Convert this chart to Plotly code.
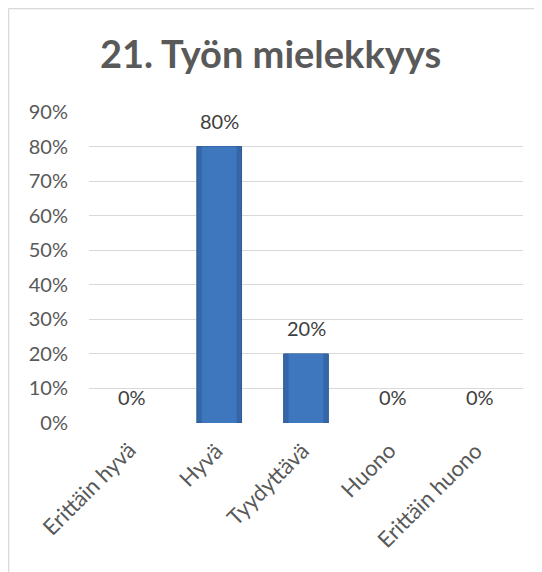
import plotly.graph_objects as go

categories = ["Erittäin hyvä", "Hyvä", "Tyydyttävä", "Huono", "Erittäin huono"]
values = [0.0, 0.80, 0.20, 0.0, 0.0]
value_labels = ["0%", "80%", "20%", "0%", "0%"]
y_ticks = [0, 0.1, 0.2, 0.3, 0.4, 0.5, 0.6, 0.7, 0.8, 0.9]
y_tick_labels = ["0%", "10%", "20%", "30%", "40%", "50%", "60%", "70%", "80%", "90%"]

FONT = "Lato, Carlito, Calibri, sans-serif"
GRAY = "#595959"

W, H = 534, 564
L, R, T, B = 81, 19, 104, 149
PW, PH = W - L - R, H - T - B

fig = go.Figure()
edge_colors = ["#2C5A94" if v > 0 else "rgba(0,0,0,0)" for v in values]
fig.add_trace(go.Bar(
    x=categories, y=values, width=0.515,
    marker=dict(color="#3566A8", line=dict(color=edge_colors, width=1)),
    hoverinfo="skip",
))
fig.add_trace(go.Bar(
    x=categories, y=values, width=0.40,
    marker=dict(color="#3F77BE", line=dict(width=0)),
    hoverinfo="skip",
))

for c, v, t in zip(categories, values, value_labels):
    fig.add_annotation(x=c, y=v, text=t, showarrow=False, yanchor="middle",
                       yshift=26,
                       font=dict(family=FONT, size=20, color="#404040"))

for c in categories:
    fig.add_annotation(x=c, y=0, text=c, showarrow=False, textangle=-45,
                       xanchor="right", yanchor="top", xshift=11, yshift=-11,
                       font=dict(family=FONT, size=22, color=GRAY))

fig.update_layout(
    width=W, height=H,
    margin=dict(l=L, r=R, t=T, b=B, autoexpand=False),
    paper_bgcolor="white", plot_bgcolor="white",
    barmode="overlay", showlegend=False,
    title=dict(text="<b>21. Työn mielekkyys</b>", x=262.5 / W, xanchor="center",
               y=1 - 47 / H, yanchor="middle",
               font=dict(family=FONT, size=38, color=GRAY)),
    font=dict(family=FONT, color=GRAY),
)
fig.update_xaxes(type="category", range=[-0.5, len(categories) - 0.5],
                 showticklabels=False, showgrid=False, showline=False,
                 ticks="", fixedrange=True, automargin=False)
fig.update_yaxes(range=[0, 0.9], tickvals=y_ticks, ticktext=y_tick_labels,
                 tickfont=dict(size=20, color=GRAY), showgrid=True,
                 gridcolor="#d9d9d9", gridwidth=1.2, zeroline=False,
                 ticks="", ticklen=0, showline=False, fixedrange=True,
                 automargin=False, ticklabelstandoff=20)

# chart border (top and left edges visible)
top_y = (H - B - 0.5) / PH
left_x = (0.5 - L) / PW
fig.add_shape(type="line", xref="paper", yref="paper",
              x0=left_x, x1=(W + 5 - L) / PW, y0=top_y, y1=top_y,
              line=dict(color="#d9d9d9", width=1.5))
fig.add_shape(type="line", xref="paper", yref="paper",
              x0=left_x, x1=left_x, y0=top_y, y1=-(B + 5) / PH,
              line=dict(color="#d9d9d9", width=1.5))

fig.write_html("out.html")
